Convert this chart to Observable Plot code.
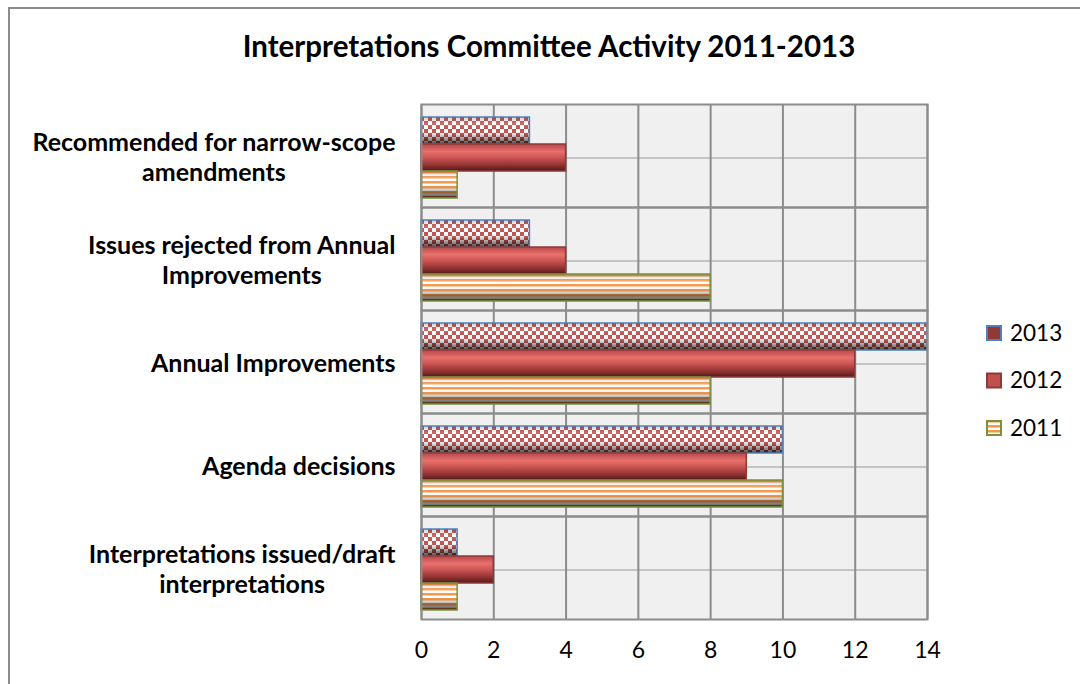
<!DOCTYPE html>
<html><head><meta charset="utf-8">
<script src="https://cdn.jsdelivr.net/npm/d3@7"></script>
<script src="https://cdn.jsdelivr.net/npm/@observablehq/plot@0.6"></script>
<style>
body{margin:0;background:#fff;}
#wrap{position:relative;width:1080px;height:684px;overflow:hidden;font-family:Lato,"Noto Sans",sans-serif;}
#border{position:absolute;left:8px;top:7px;width:1200px;height:800px;border:2px solid #8c8c8c;box-sizing:border-box;}
#title{position:absolute;left:0;width:1098px;top:31px;line-height:30px;text-align:center;font-weight:bold;font-size:29.5px;color:#000;}
#chart{position:absolute;left:0;top:0;}
#legend{position:absolute;left:0;top:0;}
</style>
</head><body>
<div id="wrap">
  <div id="border"></div>
  <div id="chart"></div>
  <div id="title">Interpretations Committee Activity 2011-2013</div>
  <div id="legend"></div>
</div>
<script>
// ---- data ----
const categories = [
  "Recommended for narrow-scope amendments",
  "Issues rejected from Annual Improvements",
  "Annual Improvements",
  "Agenda decisions",
  "Interpretations issued/draft interpretations"
];
const categoryLabels = [
  "Recommended for narrow-scope\namendments",
  "Issues rejected from Annual\nImprovements",
  "Annual Improvements",
  "Agenda decisions",
  "Interpretations issued/draft\ninterpretations"
];
const years = ["2013", "2012", "2011"];
const values2013 = [3, 3, 14, 10, 1];
const values2012 = [4, 4, 12, 9, 2];
const values2011 = [1, 8, 8, 10, 1];
const xTicks = [0, 2, 4, 6, 8, 10, 12, 14];

const seriesValues = {"2013": values2013, "2012": values2012, "2011": values2011};
const rows = [];
categories.forEach((c, i) => years.forEach(y => rows.push({category: c, year: y, value: seriesValues[y][i]})));
const labelOf = Object.fromEntries(categories.map((c, i) => [c, categoryLabels[i]]));

const styleOf = {
  "2013": {fill: "url(#p2013)", stroke: "#4f81bd"},
  "2012": {fill: "url(#g2012)", stroke: "#8e3a38"},
  "2011": {fill: "url(#p2011)", stroke: "#77933c"}
};

const barMarks = years.flatMap(yr => [
  Plot.barX(rows, {filter: d => d.year === yr, fy: "category", y: "year", x: "value", fill: styleOf[yr].fill}),
  Plot.barX(rows, {filter: d => d.year === yr, fy: "category", y: "year", x: "value", fill: yr === "2012" ? "none" : "url(#shade)", stroke: styleOf[yr].stroke, strokeWidth: 1.5})
]);

const plot = Plot.plot({
  width: 1080,
  height: 684,
  marginLeft: 421,
  marginRight: 153,
  marginTop: 103,
  marginBottom: 64,
  style: {fontFamily: "Lato, 'Noto Sans', sans-serif", background: "transparent", color: "#000"},
  x: {domain: [0, 14]},
  y: {domain: years, paddingInner: 0, paddingOuter: 0.35, align: 0.6, axis: null},
  fy: {domain: categories, padding: 0},
  marks: [
    Plot.frame({fill: "#f0f0f0"}),
    Plot.ruleY(["2012"], {stroke: "#c4c4c4", strokeWidth: 2}),
    Plot.ruleX(xTicks, {stroke: "#8c8c8c", strokeWidth: 2}),
    ...barMarks,
    Plot.frame({stroke: "#8c8c8c", strokeWidth: 2}),
    Plot.axisX({anchor: "bottom", ticks: xTicks, tickSize: 0, tickPadding: 22, fontSize: 23, label: null}),
    Plot.axisFy({anchor: "left", tickSize: 0, tickPadding: 26, fontSize: 25, fontWeight: "bold", lineHeight: 1.2, label: null, tickFormat: d => labelOf[d]})
  ]
});
document.getElementById("chart").appendChild(plot);

// ---- patterns & gradients ----
const svg = d3.select(plot);
const defs = svg.insert("defs", ":first-child");
const p13 = defs.append("pattern").attr("id", "p2013").attr("patternUnits", "userSpaceOnUse").attr("width", 8).attr("height", 8);
p13.append("rect").attr("width", 8).attr("height", 8).attr("fill", "#ffffff");
p13.append("rect").attr("width", 4).attr("height", 4).attr("fill", "#c0504d");
p13.append("rect").attr("x", 4).attr("y", 4).attr("width", 4).attr("height", 4).attr("fill", "#c0504d");
const p11 = defs.append("pattern").attr("id", "p2011").attr("patternUnits", "userSpaceOnUse").attr("width", 6).attr("height", 5);
p11.append("rect").attr("width", 6).attr("height", 5).attr("fill", "#ffffff");
p11.append("rect").attr("width", 6).attr("height", 2.5).attr("fill", "#f79646");
const shade = defs.append("linearGradient").attr("id", "shade").attr("x1", 0).attr("y1", 0).attr("x2", 0).attr("y2", 1);
[[0, "#000", 0.2], [0.25, "#fff", 0.15], [0.45, "#fff", 0], [0.75, "#000", 0.3], [1, "#000", 0.7]]
  .forEach(([o, c, a]) => shade.append("stop").attr("offset", o).attr("stop-color", c).attr("stop-opacity", a));
const g12 = defs.append("linearGradient").attr("id", "g2012").attr("x1", 0).attr("y1", 0).attr("x2", 0).attr("y2", 1);
[[0, "#b8484a"], [0.28, "#e8706d"], [0.5, "#cc5653"], [0.8, "#8e3030"], [1, "#4f1a1a"]]
  .forEach(([o, c]) => g12.append("stop").attr("offset", o).attr("stop-color", c));

// ---- center lines of multi-line category labels within their block ----
plot.querySelectorAll('g[aria-label="fy-axis tick label"] text').forEach(t => {
  const spans = t.querySelectorAll("tspan");
  if (spans.length < 2) return;
  const w = Math.max(...Array.from(spans, s => s.getComputedTextLength()));
  t.setAttribute("text-anchor", "middle");
  spans.forEach(s => s.setAttribute("x", -w / 2));
});

// ---- legend ----
const legendItems = [
  {year: "2013", fill: "#953735", stroke: "#4f81bd"},
  {year: "2012", fill: "#c0504d", stroke: "#8e3a38"},
  {year: "2011", fill: "url(#p2011)", stroke: "#77933c"}
];
const lg = d3.select("#legend").append("svg").attr("width", 1080).attr("height", 684)
  .style("font-family", "Lato, 'Noto Sans', sans-serif");
legendItems.forEach((it, i) => {
  const cy = 333 + i * 47.5;
  lg.append("rect").attr("x", 987).attr("y", cy - 7).attr("width", 14).attr("height", 14)
    .attr("fill", it.fill).attr("stroke", it.stroke).attr("stroke-width", 2);
  lg.append("text").attr("x", 1010).attr("y", cy).attr("dy", "0.35em").attr("font-size", 22.5).text(it.year);
});
</script>
</body></html>
